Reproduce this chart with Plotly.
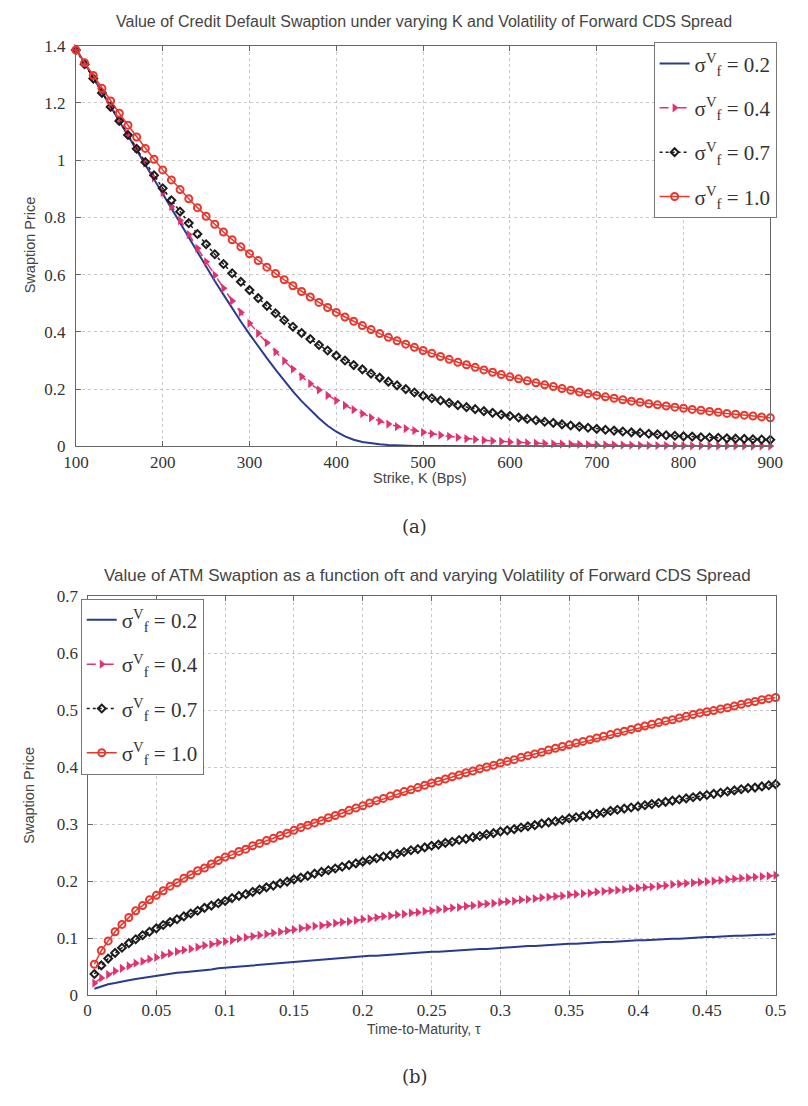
import plotly.graph_objects as go

W, H = 808, 1106

# ---------------- data: panel (a) ----------------
strike_bps = [100, 110, 120, 130, 140, 150, 160, 170, 180, 190,
              200, 210, 220, 230, 240, 250, 260, 270, 280, 290,
              300, 310, 320, 330, 340, 350, 360, 370, 380, 390,
              400, 410, 420, 430, 440, 450, 460, 470, 480, 490,
              500, 510, 520, 530, 540, 550, 560, 570, 580, 590,
              600, 610, 620, 630, 640, 650, 660, 670, 680, 690,
              700, 710, 720, 730, 740, 750, 760, 770, 780, 790,
              800, 810, 820, 830, 840, 850, 860, 870, 880, 890, 900]

price_vol02 = [1.390, 1.339, 1.288, 1.237, 1.186, 1.135, 1.084, 1.033, 0.982, 0.931,
               0.880, 0.829, 0.778, 0.728, 0.678, 0.628, 0.578, 0.530, 0.482, 0.436,
               0.392, 0.349, 0.308, 0.268, 0.229, 0.192, 0.158, 0.127, 0.098, 0.072,
               0.051, 0.035, 0.023, 0.015, 0.010, 0.007, 0.005, 0.003, 0.002, 0.0015,
               0.001, 0.0008, 0.0006, 0.0004, 0.0003, 0.0002, 0.0001, 0.0, 0.0, 0.0,
               0.0, 0.0, 0.0, 0.0, 0.0, 0.0, 0.0, 0.0, 0.0, 0.0,
               0.0, 0.0, 0.0, 0.0, 0.0, 0.0, 0.0, 0.0, 0.0, 0.0,
               0.0, 0.0, 0.0, 0.0, 0.0, 0.0, 0.0, 0.0, 0.0, 0.0, 0.0]

price_vol04 = [1.390, 1.340, 1.290, 1.240, 1.190, 1.140, 1.090, 1.040, 0.990, 0.938,
               0.887, 0.838, 0.789, 0.740, 0.692, 0.645, 0.598, 0.552, 0.508, 0.468,
               0.430, 0.395, 0.362, 0.330, 0.299, 0.270, 0.244, 0.219, 0.197, 0.178,
               0.160, 0.143, 0.128, 0.114, 0.100, 0.088, 0.078, 0.069, 0.062, 0.055,
               0.049, 0.044, 0.039, 0.035, 0.031, 0.027, 0.024, 0.021, 0.019, 0.017,
               0.015, 0.014, 0.012, 0.011, 0.010, 0.009, 0.008, 0.0075, 0.007, 0.0065,
               0.006, 0.0055, 0.005, 0.0045, 0.004, 0.0037, 0.0034, 0.003, 0.0027, 0.0024,
               0.002, 0.0019, 0.0018, 0.0017, 0.0016, 0.0015, 0.0014, 0.0013, 0.0012, 0.0011, 0.001]

price_vol07 = [1.385, 1.335, 1.285, 1.235, 1.186, 1.137, 1.088, 1.040, 0.993, 0.947,
               0.902, 0.860, 0.820, 0.780, 0.742, 0.706, 0.671, 0.637, 0.605, 0.575,
               0.546, 0.518, 0.491, 0.465, 0.441, 0.418, 0.396, 0.375, 0.354, 0.335,
               0.317, 0.300, 0.284, 0.269, 0.254, 0.240, 0.226, 0.213, 0.200, 0.188,
               0.177, 0.168, 0.160, 0.152, 0.144, 0.137, 0.130, 0.123, 0.117, 0.111,
               0.106, 0.101, 0.096, 0.091, 0.086, 0.082, 0.077, 0.073, 0.069, 0.065,
               0.061, 0.058, 0.055, 0.052, 0.049, 0.047, 0.044, 0.042, 0.039, 0.037,
               0.035, 0.034, 0.032, 0.031, 0.030, 0.028, 0.027, 0.026, 0.025, 0.024, 0.023]

price_vol10 = [1.385, 1.340, 1.296, 1.251, 1.207, 1.164, 1.122, 1.081, 1.041, 1.003,
               0.966, 0.931, 0.897, 0.865, 0.834, 0.804, 0.776, 0.749, 0.722, 0.697,
               0.673, 0.649, 0.626, 0.604, 0.582, 0.561, 0.541, 0.522, 0.503, 0.485,
               0.468, 0.452, 0.437, 0.422, 0.408, 0.394, 0.381, 0.369, 0.357, 0.346,
               0.335, 0.325, 0.314, 0.304, 0.294, 0.285, 0.276, 0.267, 0.259, 0.251,
               0.243, 0.236, 0.229, 0.222, 0.215, 0.209, 0.202, 0.196, 0.190, 0.184,
               0.178, 0.173, 0.168, 0.163, 0.158, 0.154, 0.149, 0.145, 0.141, 0.137,
               0.133, 0.129, 0.126, 0.122, 0.119, 0.115, 0.112, 0.109, 0.106, 0.103, 0.100]

# ---------------- data: panel (b) ----------------
maturity = [0.005, 0.010, 0.015, 0.020, 0.025, 0.030, 0.035, 0.040, 0.045, 0.050,
            0.055, 0.060, 0.065, 0.070, 0.075, 0.080, 0.085, 0.090, 0.095, 0.100,
            0.105, 0.110, 0.115, 0.120, 0.125, 0.130, 0.135, 0.140, 0.145, 0.150,
            0.155, 0.160, 0.165, 0.170, 0.175, 0.180, 0.185, 0.190, 0.195, 0.200,
            0.205, 0.210, 0.215, 0.220, 0.225, 0.230, 0.235, 0.240, 0.245, 0.250,
            0.255, 0.260, 0.265, 0.270, 0.275, 0.280, 0.285, 0.290, 0.295, 0.300,
            0.305, 0.310, 0.315, 0.320, 0.325, 0.330, 0.335, 0.340, 0.345, 0.350,
            0.355, 0.360, 0.365, 0.370, 0.375, 0.380, 0.385, 0.390, 0.395, 0.400,
            0.405, 0.410, 0.415, 0.420, 0.425, 0.430, 0.435, 0.440, 0.445, 0.450,
            0.455, 0.460, 0.465, 0.470, 0.475, 0.480, 0.485, 0.490, 0.495, 0.500]

atm_vol02 = [0.011, 0.015, 0.019, 0.021, 0.024, 0.026, 0.028, 0.030, 0.032, 0.034,
             0.035, 0.037, 0.039, 0.040, 0.041, 0.043, 0.044, 0.045, 0.047, 0.048,
             0.049, 0.050, 0.051, 0.052, 0.054, 0.055, 0.056, 0.057, 0.058, 0.059,
             0.060, 0.061, 0.061, 0.062, 0.063, 0.064, 0.065, 0.066, 0.067, 0.068,
             0.069, 0.069, 0.070, 0.071, 0.072, 0.073, 0.073, 0.074, 0.075, 0.076,
             0.076, 0.077, 0.078, 0.079, 0.079, 0.080, 0.081, 0.081, 0.082, 0.083,
             0.084, 0.084, 0.085, 0.086, 0.086, 0.087, 0.088, 0.088, 0.089, 0.090,
             0.090, 0.091, 0.091, 0.092, 0.093, 0.093, 0.094, 0.095, 0.095, 0.096,
             0.096, 0.097, 0.097, 0.098, 0.099, 0.099, 0.100, 0.100, 0.101, 0.102,
             0.102, 0.103, 0.103, 0.104, 0.104, 0.105, 0.105, 0.106, 0.106, 0.107]

atm_vol04 = [0.021, 0.030, 0.036, 0.042, 0.047, 0.051, 0.056, 0.059, 0.063, 0.066,
             0.070, 0.073, 0.076, 0.079, 0.081, 0.084, 0.087, 0.089, 0.092, 0.094,
             0.096, 0.099, 0.101, 0.103, 0.105, 0.107, 0.109, 0.111, 0.113, 0.115,
             0.117, 0.119, 0.121, 0.122, 0.124, 0.126, 0.128, 0.129, 0.131, 0.133,
             0.134, 0.136, 0.138, 0.139, 0.141, 0.142, 0.144, 0.145, 0.147, 0.148,
             0.150, 0.151, 0.153, 0.154, 0.156, 0.157, 0.159, 0.160, 0.161, 0.163,
             0.164, 0.165, 0.167, 0.168, 0.169, 0.171, 0.172, 0.173, 0.174, 0.176,
             0.177, 0.178, 0.179, 0.181, 0.182, 0.183, 0.184, 0.185, 0.187, 0.188,
             0.189, 0.190, 0.191, 0.192, 0.194, 0.195, 0.196, 0.197, 0.198, 0.199,
             0.200, 0.201, 0.203, 0.204, 0.205, 0.206, 0.207, 0.208, 0.209, 0.210]

atm_vol07 = [0.037, 0.052, 0.064, 0.074, 0.083, 0.091, 0.098, 0.105, 0.111, 0.117,
             0.123, 0.128, 0.133, 0.138, 0.143, 0.148, 0.153, 0.157, 0.161, 0.165,
             0.170, 0.174, 0.177, 0.181, 0.185, 0.189, 0.192, 0.196, 0.199, 0.203,
             0.206, 0.209, 0.213, 0.216, 0.219, 0.222, 0.225, 0.228, 0.231, 0.234,
             0.237, 0.240, 0.243, 0.245, 0.248, 0.251, 0.254, 0.256, 0.259, 0.262,
             0.264, 0.267, 0.269, 0.272, 0.274, 0.277, 0.279, 0.282, 0.284, 0.287,
             0.289, 0.291, 0.294, 0.296, 0.298, 0.301, 0.303, 0.305, 0.307, 0.310,
             0.312, 0.314, 0.316, 0.318, 0.320, 0.323, 0.325, 0.327, 0.329, 0.331,
             0.333, 0.335, 0.337, 0.339, 0.341, 0.343, 0.345, 0.347, 0.349, 0.351,
             0.353, 0.355, 0.357, 0.359, 0.361, 0.363, 0.364, 0.366, 0.368, 0.370]

atm_vol10 = [0.054, 0.078, 0.095, 0.111, 0.124, 0.136, 0.148, 0.157, 0.167, 0.175,
             0.183, 0.191, 0.197, 0.205, 0.211, 0.218, 0.223, 0.230, 0.236, 0.242,
             0.246, 0.252, 0.256, 0.262, 0.266, 0.271, 0.275, 0.280, 0.284, 0.289,
             0.294, 0.298, 0.302, 0.306, 0.311, 0.315, 0.319, 0.324, 0.328, 0.332,
             0.337, 0.341, 0.345, 0.349, 0.353, 0.357, 0.360, 0.364, 0.368, 0.372,
             0.375, 0.379, 0.383, 0.386, 0.390, 0.393, 0.397, 0.400, 0.403, 0.407,
             0.410, 0.413, 0.417, 0.420, 0.423, 0.426, 0.430, 0.433, 0.436, 0.439,
             0.442, 0.445, 0.448, 0.451, 0.454, 0.457, 0.460, 0.463, 0.466, 0.469,
             0.472, 0.475, 0.478, 0.481, 0.483, 0.486, 0.489, 0.492, 0.495, 0.497,
             0.499, 0.502, 0.504, 0.507, 0.510, 0.513, 0.515, 0.518, 0.520, 0.522]

labels = ["σ<sup>V</sup><sub>f</sub> = 0.2", "σ<sup>V</sup><sub>f</sub> = 0.4",
          "σ<sup>V</sup><sub>f</sub> = 0.7", "σ<sup>V</sup><sub>f</sub> = 1.0"]

BLUE = "#2a3a8e"
PINK = "#e0336f"
BLACK = "#1c1c1c"
RED = "#e8382e"

styles = [
    dict(mode="lines", line=dict(color=BLUE, width=2)),
    dict(mode="lines+markers", line=dict(color=PINK, width=1.5, dash="dash"),
         marker=dict(symbol="triangle-right", size=8, color=PINK)),
    dict(mode="lines+markers", line=dict(color=BLACK, width=1.5, dash="dot"),
         marker=dict(symbol="diamond-open", size=6, color=BLACK, line=dict(width=2, color=BLACK))),
    dict(mode="lines+markers", line=dict(color=RED, width=1.5),
         marker=dict(symbol="circle-open", size=7, color=RED, line=dict(width=2, color=RED))),
]

fig = go.Figure()
top_series = [price_vol02, price_vol04, price_vol07, price_vol10]
bot_series = [atm_vol02, atm_vol04, atm_vol07, atm_vol10]
for i, (ys, st) in enumerate(zip(top_series, styles)):
    fig.add_trace(go.Scatter(x=strike_bps, y=ys, name=labels[i], xaxis="x", yaxis="y",
                             legend="legend", legendgroup="a%d" % i, cliponaxis=False, **st))
for i, (ys, st) in enumerate(zip(bot_series, styles)):
    fig.add_trace(go.Scatter(x=maturity, y=ys, name=labels[i], xaxis="x2", yaxis="y2",
                             legend="legend2", legendgroup="b%d" % i, cliponaxis=False, **st))

def px_x(p):
    return p / W

def px_y(p):
    return 1 - p / H

tickfont = dict(family="Liberation Serif", size=17, color="#333")
axis_common = dict(showline=True, linecolor="#666", linewidth=1, mirror="ticks",
                   ticks="inside", ticklen=5, tickcolor="#666",
                   showgrid=True, gridcolor="#c8c8c8", griddash="dot", gridwidth=1,
                   zeroline=False, tickfont=tickfont)

legend_font = dict(family="Liberation Serif", size=21, color="#333")

fig.update_layout(
    width=W, height=H, margin=dict(l=0, r=0, t=0, b=0),
    paper_bgcolor="white", plot_bgcolor="white", showlegend=True,
    xaxis=dict(domain=[px_x(65), px_x(782.5)], range=[100, 900], dtick=100, anchor="y",
               **axis_common),
    yaxis=dict(domain=[px_y(445), px_y(37.3)], range=[0, 1.4], dtick=0.2, anchor="x",
               ticklabelstandoff=6, **axis_common),
    xaxis2=dict(domain=[px_x(77), px_x(788)], range=[0, 0.5], dtick=0.05, anchor="y2",
                **axis_common),
    yaxis2=dict(domain=[px_y(1003.3), px_y(597.3)], range=[0, 0.7], dtick=0.1, anchor="x2",
                ticklabelstandoff=5, **axis_common),
    legend=dict(x=px_x(789), xanchor="right", y=px_y(34), yanchor="top",
                bgcolor="white", bordercolor="#777", borderwidth=1,
                font=legend_font, itemwidth=30, tracegroupgap=14),
    legend2=dict(x=px_x(70), xanchor="left", y=px_y(600), yanchor="top",
                 bgcolor="white", bordercolor="#777", borderwidth=1,
                 font=legend_font, itemwidth=30, tracegroupgap=14),
)

def note(text, x, y, size, family="Liberation Sans", angle=0, color="#444"):
    fig.add_annotation(text=text, x=px_x(x), y=px_y(y), xref="paper", yref="paper",
                       showarrow=False, xanchor="center", yanchor="middle",
                       textangle=angle, font=dict(family=family, size=size, color=color))

note("Value of Credit Default Swaption under varying K and Volatility of Forward CDS Spread", 425, 13, 16)
note("Strike, K (Bps)", 420, 477, 14.5)
note("Swaption Price", 17, 240, 14.5, angle=-90)
note("(a)", 415, 527, 18, family="DejaVu Serif", color="#333")
note("Value of ATM Swaption as a function ofτ and varying Volatility of Forward CDS Spread", 428, 576, 17)
note("Time-to-Maturity, τ", 425, 1038, 14)
note("Swaption Price", 17, 800, 14.5, angle=-90)
note("(b)", 415, 1086, 18, family="DejaVu Serif", color="#333")

fig.write_html("out.html")
